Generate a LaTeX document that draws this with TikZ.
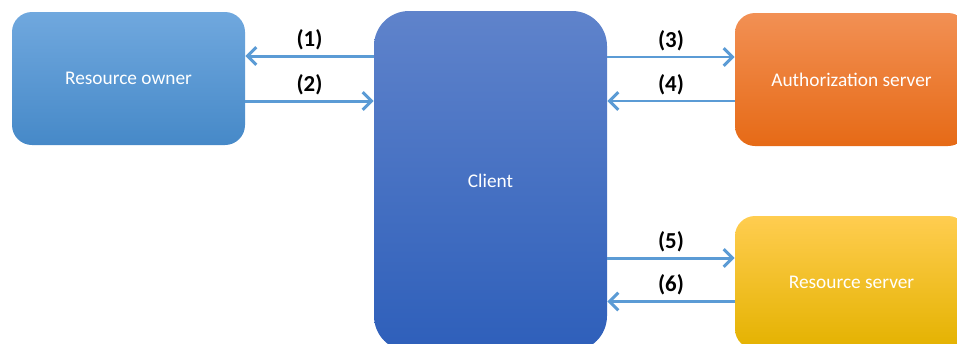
\documentclass[tikz,border=0pt]{standalone}
\usepackage{fontspec}
\setmainfont{Carlito}
\usepackage{xcolor}
\usepackage{tikz}
\usetikzlibrary{arrows.meta, positioning, calc}
\definecolor{ownertop}{RGB}{112,168,222}
\definecolor{ownerbot}{RGB}{70,137,200}
\definecolor{clienttop}{RGB}{95,131,203}
\definecolor{clientbot}{RGB}{46,95,186}
\definecolor{authtop}{RGB}{242,144,84}
\definecolor{authbot}{RGB}{230,106,22}
\definecolor{restop}{RGB}{255,205,80}
\definecolor{resmid}{RGB}{255,196,0}
\definecolor{resbot}{RGB}{228,178,0}
\definecolor{flowblue}{RGB}{91,155,213}
\tikzset{
  party/.style={rectangle, rounded corners=0.4cm, minimum width=4.66cm, minimum height=2.66cm, text centered, text=white, font=\fontsize{11}{13}\selectfont},
  flow/.style={draw=flowblue, line width=1.7pt, -{Straight Barb[length=5pt,width=10pt]}},
  step label/.style={above=-0.5pt, font=\fontsize{13}{15}\selectfont\bfseries, text=black}
}

\begin{document}
\begin{tikzpicture}
\useasboundingbox (0,0) rectangle (19.14,-6.86);
\clip (0,0) rectangle (19.14,-6.86);

% Parties
\node[party, top color=ownertop, bottom color=ownerbot] at (2.57,-1.57) (owner) {Resource owner};
\node[party, rounded corners=0.7cm, minimum height=6.8cm, top color=clienttop, bottom color=clientbot] at (9.81,-3.62) (client) {Client};
\node[party, top color=authtop, bottom color=authbot] at (17.03,-1.59) (auth) {Authorization server};
\node[party, top color=restop, middle color=resmid, bottom color=resbot] at (17.03,-5.65) (res) {Resource server};

% Anchor points on the side boxes
\coordinate (p1) at ([yshift=0.45cm]owner.east);
\coordinate (p2) at ([yshift=-0.45cm]owner.east);
\coordinate (p3) at ([yshift=0.45cm]auth.west);
\coordinate (p4) at ([yshift=-0.43cm]auth.west);
\coordinate (p5) at ([yshift=0.49cm]res.west);
\coordinate (p6) at ([yshift=-0.38cm]res.west);

% Flows
\draw[flow] (client.west |- p1) -- node[step label] {(1)} (p1);
\draw[flow] (p2) -- node[step label] {(2)} (client.west |- p2);
\draw[flow] (client.east |- p3) -- node[step label] {(3)} (p3);
\draw[flow] (p4) -- node[step label] {(4)} (client.east |- p4);
\draw[flow] (client.east |- p5) -- node[step label] {(5)} (p5);
\draw[flow] (p6) -- node[step label] {(6)} (client.east |- p6);
\end{tikzpicture}
\end{document}
